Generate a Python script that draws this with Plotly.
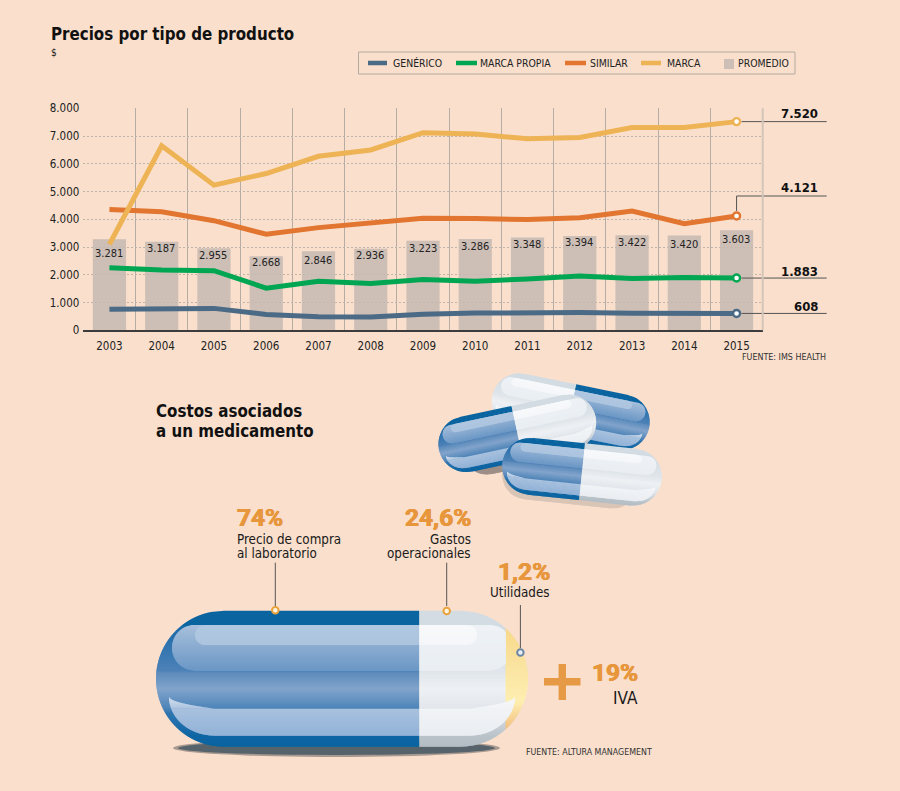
# -*- coding: utf-8 -*-
import math
import plotly.graph_objects as go

''' Data '''
years = [2003, 2004, 2005, 2006, 2007, 2008, 2009, 2010, 2011, 2012, 2013, 2014, 2015]
promedio = [3281, 3187, 2955, 2668, 2846, 2936, 3223, 3286, 3348, 3394, 3422, 3420, 3603]
generico = [760, 770, 790, 570, 490, 480, 580, 620, 650, 640, 610, 590, 608]
marca_propia = [2250, 2170, 2150, 1520, 1770, 1690, 1830, 1770, 1850, 1960, 1870, 1900, 1883]
similar = [4350, 4270, 3950, 3460, 3700, 3890, 4040, 4030, 3990, 4060, 4300, 3840, 4121]
marca = [3100, 6650, 5230, 5650, 6270, 6500, 7120, 7070, 6900, 6950, 7310, 7310, 7520]

''' Styles '''
BG = '#f9dfcc'
NARROW = 'DejaVu Sans Condensed'
HEAVY = 'Roboto'
ORANGE = '#e8963c'
BAR = 'rgba(197, 185, 177, .85)'
series = [('GENÉRICO', generico, '#4b6a85'), ('MARCA PROPIA', marca_propia, '#00a651'),
          ('SIMILAR', similar, '#e2752f'), ('MARCA', marca, '#eeb355')]

## Plot area in page pixels
PX_L, PX_R, PX_T, PX_B = 83.3, 762.7, 108.3, 330.3
W, H = 900, 791
YMAX = 8000


def y_px(v):
    return PX_B - v * (PX_B - PX_T) / YMAX


def x_px(year):
    return PX_L + (year - years[0] + .5) * (PX_R - PX_L) / len(years)


def fmt(v):
    return f'{v:,}'.replace(',', '.')


shapes = []
annotations = []


def text(s, x, y, size, anchor='left', color='#1a1a1a', bold=False, family=NARROW, shadow=None):
    annotations.append(dict(text=s, x=x, y=y, xref='x2', yref='y2', showarrow=False,
                            xanchor=anchor, yanchor='middle', borderpad=0,
                            font=dict(family=family, size=size, color=color,
                                      weight=700 if bold else 400, shadow=shadow or 'none')))


def line(x0, y0, x1, y1, color='#555555', width=1):
    shapes.append(dict(type='line', x0=x0, y0=y0, x1=x1, y1=y1, xref='x2', yref='y2',
                       layer='below', line=dict(color=color, width=width)))


def rect(x0, y0, x1, y1, fill, border=None):
    shapes.append(dict(type='rect', x0=x0, y0=y0, x1=x1, y1=y1, xref='x2', yref='y2', layer='below',
                       fillcolor=fill, line=dict(color=border or fill, width=1 if border else 0)))


''' Pill drawing, stacked thin strips because shapes have no gradient '''


def hex_rgb(c):
    return [int(c[i:i + 2], 16) for i in (1, 3, 5)]


def grad(stops, t):
    for (t0, c0), (t1, c1) in zip(stops, stops[1:]):
        if t <= t1:
            k = 0 if t1 == t0 else (t - t0) / (t1 - t0)
            a, b = hex_rgb(c0), hex_rgb(c1)
            return 'rgb(%d,%d,%d)' % tuple(round(p + (q - p) * k) for p, q in zip(a, b))
    return stops[-1][1]


def arc(r, d):
    return math.sqrt(max(r * r - d * d, 0))


class Pill:
    ## Every length below is in units of the big pill, whose height is 136
    def __init__(self, cx, cy, length, height, angle, blue_left=True, split=0, cap=None):
        self.cx, self.cy, self.s = cx, cy, height / 136
        self.hl = length / 2 / self.s
        self.c, self.sn = math.cos(math.radians(angle)), math.sin(math.radians(angle))
        self.blue_left, self.split, self.cap = blue_left, split, cap
        self.step = max(1, 1 / self.s * .9)

    def pt(self, u, v):
        x, y = u * self.s, (v - 68) * self.s
        return self.cx + x * self.c - y * self.sn, self.cy + x * self.sn + y * self.c

    def poly(self, a0, b0, a1, b1, v0, v1, fill):
        pts = [self.pt(a0, v0), self.pt(b0, v0), self.pt(b1, v1), self.pt(a1, v1)]
        path = 'M' + 'L'.join(f'{x:.2f},{y:.2f}' for x, y in pts) + 'Z'
        shapes.append(dict(type='path', path=path, xref='x2', yref='y2', layer='below',
                           fillcolor=fill, line=dict(width=0)))

    def paint(self, ext, v0, v1, blue, white=None):
        ## ext(v) gives the left and right limit of the region at height v
        v = v0
        over = .7 / self.s
        while v < v1:
            ve = min(v + self.step, v1)
            vo = min(ve + over, v1)
            a0, b0 = ext(v)
            a1, b1 = ext(vo)
            t = (v - v0) / max(v1 - v0, 1e-6)
            if white is None:
                self.poly(a0, b0, a1, b1, v, vo, grad(blue, t))
            else:
                left, right = (blue, white) if self.blue_left else (white, blue)
                sp = self.split
                if a0 < sp or a1 < sp:
                    self.poly(a0, min(b0, sp), a1, min(b1, sp), v, vo, grad(left, t))
                if b0 > sp or b1 > sp:
                    self.poly(max(a0, sp), b0, max(a1, sp), b1, v, vo, grad(right, t))
            v = ve

    def outer(self, v):
        w = self.hl - 68 + arc(68, v - 68)
        return -w, w

    def flat(self, fill):
        self.paint(self.outer, 0, 136, [(0, fill), (1, fill)])

    def draw(self):
        hl = self.hl
        self.paint(self.outer, 0, 136,
                   [(0, '#0a64a0'), (.105, '#0a64a0'), (.106, '#1a6ba8'), (.44, '#4e82b8'), (.45, '#5c8bbb'),
                    (.57, '#82a4cc'), (.71, '#4f85b8'), (.75, '#2f76b0'), (.92, '#0f66a4'), (1, '#0a64a0')],
                   [(0, '#d3dce3'), (.105, '#d3dce3'), (.44, '#dfe5ea'), (.57, '#eef1f4'),
                    (.71, '#e2e7ec'), (.92, '#b9c2c9'), (1, '#b4bdc4')])
        if self.cap is not None:
            self.paint(lambda v: (min(self.cap, self.outer(v)[1]), self.outer(v)[1]), 17, 119,
                       [(0, '#f8d98a'), (.35, '#fae3a0'), (.72, '#fdeeb0'), (1, '#f3bd7c')])
        ## upper gloss
        gw = hl - 16
        self.paint(lambda v: (-(gw - 23 + arc(23, v - 37)), min(gw - 23 + arc(23, v - 37), self.cap or hl)), 14.3, 60,
                   [(0, '#a6bfdb'), (1, '#6a96c5')], [(0, '#eef2f6'), (1, '#e9eef3')])
        ## highlight bar
        self.paint(lambda v: (-(hl - 49 + arc(10, v - 24.3)), hl - 61 + arc(10, v - 24.3)), 14.3, 34.3,
                   [(0, '#b0c7e1'), (1, '#adc4df')], [(0, '#f7f9fb'), (1, '#f4f6f9')])

        ## lower gloss, a crescent with pointed tips
        tip = hl - 13
        inner = hl - 59

        def low(v):
            return inner + (tip - inner) * arc(1, (v - 86) / 39)

        self.paint(lambda v: (-low(v), low(v)), 98, 125,
                   [(0, '#a8c1de'), (1, '#91b2d7')], [(0, '#f1f3f6'), (1, '#e9edf1')])

        def top(v):
            return -tip + (tip - inner) * ((v - 86) / 12) ** 2

        self.paint(lambda v: (-low(v), top(v)), 86, 98,
                   [(0, '#d6e1ee'), (1, '#a8c1de')], [(0, '#f6f8fa'), (1, '#f1f3f6')])
        self.paint(lambda v: (-top(v), low(v)), 86, 98,
                   [(0, '#d6e1ee'), (1, '#a8c1de')], [(0, '#f6f8fa'), (1, '#f1f3f6')])


''' Title and legend '''
text('Precios por tipo de producto', 50, 33.5, 16.8, bold=True, color='#111111')
text('$', 50, 52, 10)

rect(358.5, 52, 795, 74, 'rgba(0,0,0,0)', '#b5aaa0')
legend_pos = [(368, 387, 391.5), (456, 477, 479), (565, 586, 588.5), (641, 661, 665.5)]
for (name, _, color), (x0, x1, xt) in zip(series, legend_pos):
    line(x0, 63, x1, 63, color, 4.5)
    text(name, xt, 63, 10.4, color='#222222')
rect(724, 59, 734, 69, '#cdbfb5')
text('PROMEDIO', 736.5, 63, 10.4, color='#222222')

''' Leader lines and values at the end of each series '''
end_x = x_px(years[-1])
label_y = {'GENÉRICO': 306, 'MARCA PROPIA': 271, 'SIMILAR': 187, 'MARCA': 113}
for name, vals, color in series:
    y = y_px(vals[-1])
    if name == 'SIMILAR':
        line(end_x, y - 5, end_x, 196)
        line(end_x, 196, 826.7, 196)
    else:
        line(end_x + 5, y, 826.7, y)
    text(fmt(vals[-1]), 818.5, label_y[name], 13, anchor='right', bold=True, color='#111111')

## right edge of the plot
line(PX_R, PX_T, PX_R, PX_B, '#d3c6b9', 2)

text('FUENTE: IMS HEALTH', 826.5, 357, 8.9, anchor='right', color='#333333')

''' Bar labels '''
label_drop = [14, 6.8, 6.7, 6.4, 8.7, 6.2, 7.8, 7.6, 7.6, 6.6, 7.4, 8.6, 9]
for yr, v, d in zip(years, promedio, label_drop):
    text(fmt(v), x_px(yr) - .5, y_px(v) + d, 11, anchor='center', color='#222222')

''' Lower panel '''
text('Costos asociados', 154.5, 411, 16.8, bold=True, color='#111111')
text('a un medicamento', 154.5, 431, 16.8, bold=True, color='#111111')

## three loose capsules, shadows first
Pill(570, 479, 136, 50, 6).flat('#d9c5b6')
Pill(527, 442, 130, 48, -12).flat('#9c8e86')
Pill(570.7, 411.7, 160, 56, 11.5, blue_left=False).draw()
Pill(517.3, 433.3, 160, 56, -12).draw()
Pill(582, 471.7, 160, 57, 6).draw()

## big capsule with its shadow
shapes.append(dict(type='circle', x0=173, x1=500, y0=739, y1=757, xref='x2', yref='y2', layer='below',
                   fillcolor='#a89a90', line=dict(width=0)))
shapes.append(dict(type='circle', x0=178, x1=495, y0=741, y1=755, xref='x2', yref='y2', layer='below',
                   fillcolor='#57636b', line=dict(width=0)))
Pill(342, 678.7, 372, 136, 0, split=77.3, cap=163.7).draw()

heavy = '.5px 0 0 ' + ORANGE + ', -.5px 0 0 ' + ORANGE
text('74%', 235.5, 517.5, 24.5, color=ORANGE, bold=True, family=HEAVY, shadow=heavy)
text('Precio de compra', 235.5, 539.5, 13.3)
text('al laboratorio', 235.5, 553.5, 13.3)
text('24,6%', 471.5, 517.5, 24.5, anchor='right', color=ORANGE, bold=True, family=HEAVY, shadow=heavy)
text('Gastos', 471.5, 539.5, 13.3, anchor='right')
text('operacionales', 471.5, 553.5, 13.3, anchor='right')
text('1,2%', 551, 571.5, 24.5, anchor='right', color=ORANGE, bold=True, family=HEAVY, shadow=heavy)
text('Utilidades', 551, 592.5, 13.3, anchor='right')
text('19%', 638.5, 672, 24.5, anchor='right', color=ORANGE, bold=True, family=HEAVY, shadow=heavy)
text('IVA', 638.5, 698, 17, anchor='right')
text('FUENTE: ALTURA MANAGEMENT', 524.5, 751.5, 8.8, color='#333333')

line(275.3, 562.7, 275.3, 606)
line(446.7, 562.7, 446.7, 606)
line(520.4, 605, 520.4, 648)

## plus sign
rect(544, 678, 580.5, 685.4, '#e79a45')
rect(558.6, 664, 566, 700, '#e79a45')

''' Figure '''
fig = go.Figure()
fig.add_trace(go.Bar(x=years, y=promedio, width=.635, marker=dict(color=BAR, line=dict(width=0)),
                     hoverinfo='skip', showlegend=False))
for name, vals, color in series:
    fig.add_trace(go.Scatter(x=years, y=vals, mode='lines', name=name, showlegend=False,
                             line=dict(color=color, width=5)))
    fig.add_trace(go.Scatter(x=years[-1:], y=vals[-1:], mode='markers', showlegend=False, hoverinfo='skip',
                             marker=dict(color='#ffffff', size=7, line=dict(color=color, width=2.4))))

## callout dots of the capsule
fig.add_trace(go.Scatter(x=[275.3, 446.7, 520.4], y=[610.3, 611, 652.5], xaxis='x2', yaxis='y2', mode='markers',
                         showlegend=False, hoverinfo='skip',
                         marker=dict(color=['#fdf3e0', '#fdf3e0', '#e8eef3'], size=6.5,
                                     line=dict(color=['#e8a33c', '#e8a33c', '#6d87a4'], width=2))))

fig.update_layout(
    width=W, height=H, autosize=False, margin=dict(l=0, r=0, t=0, b=0, pad=0),
    paper_bgcolor=BG, plot_bgcolor='rgba(0,0,0,0)', separators=',.', showlegend=False,
    font=dict(family=NARROW, color='#222222'),
    shapes=shapes, annotations=annotations,
    xaxis=dict(domain=[PX_L / W, PX_R / W], range=[years[0] - .5, years[-1] + .5], anchor='y', automargin=False,
               tickvals=years, ticks='', showgrid=False, zeroline=False, fixedrange=True, ticklabelstandoff=4,
               showline=True, linecolor='#3c3c3c', linewidth=1.5, tickfont=dict(size=11.5, color='#222222'),
               minor=dict(tickvals=[y + .5 for y in years[:-1]], showgrid=True, gridcolor='#b5aca3',
                          gridwidth=1, griddash='solid', ticks='')),
    yaxis=dict(domain=[1 - PX_B / H, 1 - PX_T / H], range=[0, YMAX], anchor='x', dtick=1000, automargin=False,
               tickformat=',d', ticks='', showgrid=True, gridcolor='#bfb4aa', griddash='2px,2px', gridwidth=1,
               zeroline=False, showline=False, fixedrange=True, ticklabelstandoff=3,
               tickfont=dict(size=11.5, color='#222222')),
    xaxis2=dict(domain=[0, 1], range=[0, W], anchor='y2', visible=False, fixedrange=True, automargin=False),
    yaxis2=dict(domain=[0, 1], range=[H, 0], anchor='x2', visible=False, fixedrange=True, automargin=False),
)
fig.write_html('out.html', post_script="document.body.style.margin='0';", config=dict(displayModeBar=False))
